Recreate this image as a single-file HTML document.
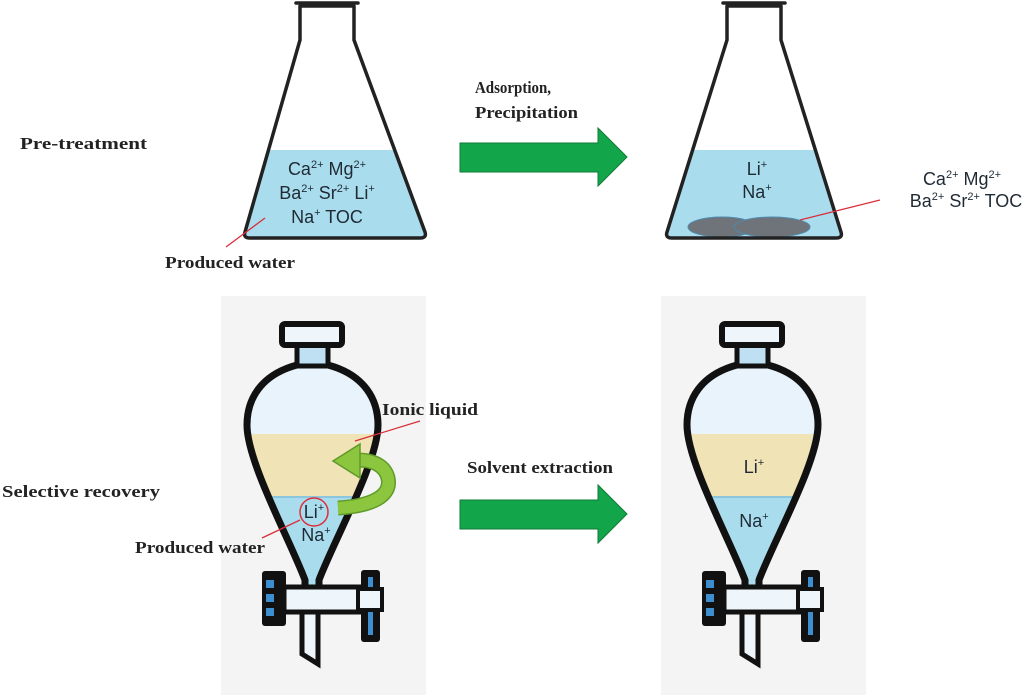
<!DOCTYPE html>
<html><head><meta charset="utf-8"><style>
html,body{margin:0;padding:0;background:#fff;}
svg{display:block;}
.lbl{font-family:"Liberation Serif",serif;font-weight:bold;font-size:17px;fill:#222;}
.ion{font-family:"Liberation Sans",sans-serif;font-size:18px;fill:#1f2a35;}
</style></head><body>
<svg width="1024" height="695" viewBox="0 0 1024 695" xmlns="http://www.w3.org/2000/svg">
<defs>
  <clipPath id="fl1"><path d="M300,6 L354,6 L354,40 L425,232 Q427,238 420,238 L250,238 Q243,238 245,232 L300,40 Z"/></clipPath>
  <clipPath id="fl2"><path d="M727,6 L781,6 L781,40 L841,232 Q843,238 836,238 L672,238 Q665,238 667,232 L727,40 Z"/></clipPath>
  <clipPath id="bulb"><path d="M297,365 C260,375 247,400 247,425 C247,462 290,540 305,580 L319,580 C334,540 378,462 378,425 C378,400 365,375 328,365 Z"/></clipPath>
  <g id="funnel">
    <g clip-path="url(#bulb)">
      <rect x="240" y="360" width="150" height="75" fill="#e8f3fb"/>
      <rect x="240" y="434" width="150" height="63" fill="#f0e3b5"/>
      <rect x="240" y="497" width="150" height="90" fill="#a9dcec"/>
      <line x1="240" y1="497" x2="390" y2="497" stroke="#8cc6dc" stroke-width="2"/>
    </g>
    <rect x="305" y="575" width="14" height="14" fill="#a9dcec"/>
    <path d="M297,365 C260,375 247,400 247,425 C247,462 290,540 305,580 L305,590 M319,590 L319,580 C334,540 378,462 378,425 C378,400 365,375 328,365" fill="none" stroke="#111" stroke-width="7" stroke-linejoin="round"/>
    <rect x="297" y="344" width="31" height="22" fill="#bfe0f2" stroke="#111" stroke-width="5"/>
    <rect x="282" y="324" width="60" height="21" rx="3" fill="#eef5fb" stroke="#111" stroke-width="6"/>
    <path d="M302,612 L302,654 L318,664 L318,612" fill="#eef5fb" stroke="#111" stroke-width="5"/>
    <rect x="262" y="571" width="24" height="55" rx="3" fill="#111"/>
    <rect x="266" y="580" width="8" height="8" fill="#3d8fd0"/>
    <rect x="266" y="594" width="8" height="8" fill="#3d8fd0"/>
    <rect x="266" y="608" width="8" height="8" fill="#3d8fd0"/>
    <rect x="284" y="587" width="78" height="25" fill="#eef5fb" stroke="#111" stroke-width="5"/>
    <rect x="361" y="570" width="19" height="72" rx="3" fill="#111"/>
    <rect x="368" y="577" width="5" height="58" fill="#3d8fd0"/>
    <rect x="358" y="589" width="24" height="21" fill="#eef5fb" stroke="#111" stroke-width="4"/>
  </g>
</defs>

<rect x="221" y="296" width="205" height="399" fill="#f4f4f4"/>
<rect x="661" y="296" width="205" height="399" fill="#f4f4f4"/>

<!-- Flask 1 -->
<g clip-path="url(#fl1)"><rect x="230" y="150" width="210" height="95" fill="#a9dcec"/></g>
<path d="M300,6 L354,6 L354,40 L425,232 Q427,238 420,238 L250,238 Q243,238 245,232 L300,40 Z" fill="none" stroke="#222" stroke-width="3.5" stroke-linejoin="round"/>
<path d="M296,3 L358,3" stroke="#222" stroke-width="3.5" stroke-linecap="round"/>
<text class="ion" x="327" y="175" text-anchor="middle">Ca<tspan font-size="11" dy="-7">2+</tspan><tspan dy="7"> Mg</tspan><tspan font-size="11" dy="-7">2+</tspan></text>
<text class="ion" x="327" y="199" text-anchor="middle">Ba<tspan font-size="11" dy="-7">2+</tspan><tspan dy="7"> Sr</tspan><tspan font-size="11" dy="-7">2+</tspan><tspan dy="7"> Li</tspan><tspan font-size="11" dy="-7">+</tspan></text>
<text class="ion" x="327" y="223" text-anchor="middle">Na<tspan font-size="11" dy="-7">+</tspan><tspan dy="7"> TOC</tspan></text>
<line x1="226" y1="247" x2="265" y2="218" stroke="#d9303c" stroke-width="1.3"/>
<text class="lbl" x="165" y="268" textLength="130" lengthAdjust="spacingAndGlyphs">Produced water</text>
<text class="lbl" x="20" y="149" textLength="127" lengthAdjust="spacingAndGlyphs">Pre-treatment</text>

<polygon points="460,143 598,143 598,128 627,157 598,186 598,172 460,172" fill="#13a54a" stroke="#0c7a35" stroke-width="1"/>
<text class="lbl" x="475" y="93" textLength="76" lengthAdjust="spacingAndGlyphs">Adsorption,</text>
<text class="lbl" x="475" y="118" textLength="103" lengthAdjust="spacingAndGlyphs">Precipitation</text>

<!-- Flask 2 -->
<g clip-path="url(#fl2)">
  <rect x="660" y="150" width="190" height="95" fill="#a9dcec"/>
  <ellipse cx="722" cy="227" rx="34" ry="10" fill="#6e7479" stroke="#4f8bb0" stroke-width="1"/>
  <ellipse cx="772" cy="227" rx="38" ry="10" fill="#6e7479" stroke="#4f8bb0" stroke-width="1"/>
</g>
<path d="M727,6 L781,6 L781,40 L841,232 Q843,238 836,238 L672,238 Q665,238 667,232 L727,40 Z" fill="none" stroke="#222" stroke-width="3.5" stroke-linejoin="round"/>
<path d="M723,3 L785,3" stroke="#222" stroke-width="3.5" stroke-linecap="round"/>
<text class="ion" x="757" y="175" text-anchor="middle">Li<tspan font-size="11" dy="-7">+</tspan></text>
<text class="ion" x="757" y="198" text-anchor="middle">Na<tspan font-size="11" dy="-7">+</tspan></text>
<line x1="800" y1="220" x2="880" y2="200" stroke="#d9303c" stroke-width="1.3"/>
<text class="ion" x="962" y="185" text-anchor="middle" font-size="17">Ca<tspan font-size="11" dy="-7">2+</tspan><tspan dy="7"> Mg</tspan><tspan font-size="11" dy="-7">2+</tspan></text>
<text class="ion" x="966" y="207" text-anchor="middle" font-size="17">Ba<tspan font-size="11" dy="-7">2+</tspan><tspan dy="7">  Sr</tspan><tspan font-size="11" dy="-7">2+</tspan><tspan dy="7"> TOC</tspan></text>

<use href="#funnel"/>
<use href="#funnel" transform="translate(440,0)"/>

<path d="M338,508 C372,506 392,496 388,478 C385,465 372,460 358,460" fill="none" stroke="#5f9a2a" stroke-width="15"/>
<path d="M338,508 C372,506 392,496 388,478 C385,465 372,460 358,460" fill="none" stroke="#8cc63f" stroke-width="12"/>
<polygon points="333,461 360,444 360,478" fill="#8cc63f" stroke="#5f9a2a" stroke-width="1.5"/>
<circle cx="314" cy="512" r="14" fill="none" stroke="#d9303c" stroke-width="1.5"/>
<text class="ion" x="314" y="518" text-anchor="middle">Li<tspan font-size="11" dy="-7">+</tspan></text>
<text class="ion" x="316" y="541" text-anchor="middle">Na<tspan font-size="11" dy="-7">+</tspan></text>
<line x1="355" y1="441" x2="420" y2="421" stroke="#d9303c" stroke-width="1.3"/>
<text class="lbl" x="382" y="415" textLength="96" lengthAdjust="spacingAndGlyphs">Ionic liquid</text>
<line x1="262" y1="538" x2="300" y2="520" stroke="#d9303c" stroke-width="1.3"/>
<text class="lbl" x="135" y="553" textLength="130" lengthAdjust="spacingAndGlyphs">Produced water</text>
<text class="lbl" x="2" y="497" textLength="158" lengthAdjust="spacingAndGlyphs">Selective recovery</text>

<text class="ion" x="754" y="473" text-anchor="middle">Li<tspan font-size="11" dy="-7">+</tspan></text>
<text class="ion" x="754" y="527" text-anchor="middle">Na<tspan font-size="11" dy="-7">+</tspan></text>

<polygon points="460,500 598,500 598,485 627,514 598,543 598,529 460,529" fill="#13a54a" stroke="#0c7a35" stroke-width="1"/>
<text class="lbl" x="467" y="473" textLength="146" lengthAdjust="spacingAndGlyphs">Solvent extraction</text>
</svg>
</body></html>
